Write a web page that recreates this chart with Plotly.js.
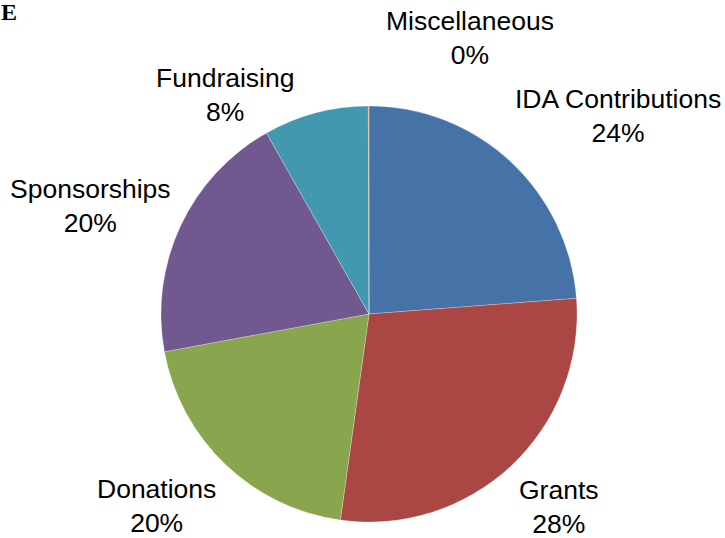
<!DOCTYPE html>
<html>
<head>
<meta charset="utf-8">
<script src="https://cdn.plot.ly/plotly-3.0.1.min.js"></script>
<style>html,body{margin:0;padding:0;background:#fff;}#chart{width:725px;height:538px;}</style>
</head>
<body>
<div id="chart"></div>
<script>
const categories = ["IDA Contributions", "Grants", "Donations", "Sponsorships", "Fundraising", "Miscellaneous"];
const values = [23.8, 28.4, 19.9, 19.7, 8.15, 0.05];
const colors = ["#4572A7", "#AA4643", "#89A54E", "#71588F", "#4198AF", "#DB843D"];

// label anchor positions (pixel centres of the two-line labels)
const labelPos = [
  [618, 116], [559, 507], [156, 506], [90, 206], [225, 95], [470, 38]
];

const W = 725, H = 538;
const total = values.reduce((a, b) => a + b, 0);
const annotations = categories.map((c, i) => ({
  text: c + "<br>" + Math.round(values[i] / total * 100) + "%",
  xref: "paper", yref: "paper",
  x: labelPos[i][0] / W, y: 1 - labelPos[i][1] / H,
  xanchor: "center", yanchor: "middle",
  showarrow: false, align: "center", borderpad: 0,
  font: {family: "Liberation Sans, Arial, sans-serif", size: 26.5, color: "#000"}
}));
annotations.push({
  text: "<b>E</b>", xref: "paper", yref: "paper", x: 0, y: 1 + 2 / H,
  xanchor: "left", yanchor: "top", showarrow: false, borderpad: 0,
  font: {family: "Liberation Serif, Times New Roman, serif", size: 24, color: "#000"}
});

const cx = 369, cy = 314, r = 208;
Plotly.newPlot("chart", [{
  type: "pie",
  labels: categories,
  values: values,
  sort: false,
  direction: "clockwise",
  rotation: 0,
  textinfo: "none",
  hoverinfo: "label+percent",
  marker: {colors: colors, line: {color: "rgba(255,255,255,0.5)", width: 0.5}},
  domain: {x: [(cx - r) / W, (cx + r) / W], y: [(H - cy - r) / H, (H - cy + r) / H]}
}], {
  width: W, height: H,
  margin: {l: 0, r: 0, t: 0, b: 0},
  showlegend: false,
  paper_bgcolor: "#fff",
  annotations: annotations
}, {staticPlot: true});
</script>
</body>
</html>
